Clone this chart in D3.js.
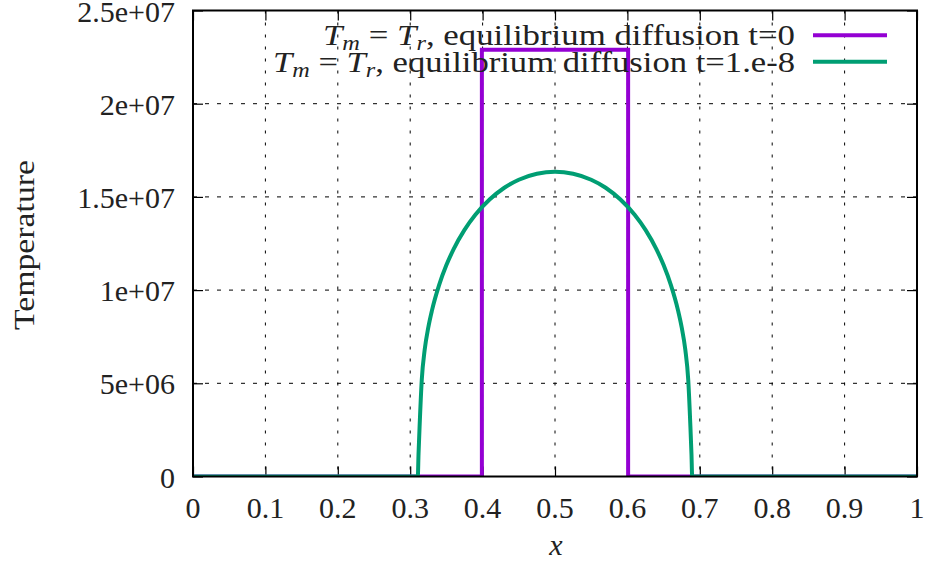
<!doctype html>
<html>
<head>
<script src="https://d3js.org/d3.v7.min.js"></script>
<style>
body { margin: 0; background: #fff; }
text { font-family: "Liberation Serif", "Times New Roman", serif; fill: #222; }
</style>
</head>
<body>
<svg width="935" height="567"></svg>
<script>
// data
var xTicks = [0, 0.1, 0.2, 0.3, 0.4, 0.5, 0.6, 0.7, 0.8, 0.9, 1];
var xTickLabels = ["0", "0.1", "0.2", "0.3", "0.4", "0.5", "0.6", "0.7", "0.8", "0.9", "1"];
var yTicks = [0, 5e6, 1e7, 1.5e7, 2e7, 2.5e7];
var yTickLabels = ["0", "5e+06", "1e+07", "1.5e+07", "2e+07", "2.5e+07"];

// t=0 : step profile
var initX = [0, 0.399, 0.399, 0.601, 0.601, 1];
var initT = [0, 0, 2.29e7, 2.29e7, 0, 0];

// t=1.e-8 : diffused profile
var diffX = [0, 0.3105, 0.3115, 0.313, 0.316, 0.320, 0.325, 0.330, 0.340, 0.350, 0.360, 0.375, 0.390, 0.410, 0.430, 0.450, 0.475, 0.500,
             0.525, 0.550, 0.570, 0.590, 0.610, 0.625, 0.640, 0.650, 0.660, 0.670, 0.675, 0.680, 0.684, 0.687, 0.6885, 0.6895, 1];
var diffT = [0, 0, 0.12e7, 0.27e7, 0.52e7, 0.68e7, 0.80e7, 0.89e7, 1.028e7, 1.134e7, 1.22e7, 1.323e7, 1.404e7, 1.487e7, 1.549e7, 1.592e7, 1.624e7, 1.635e7,
             1.624e7, 1.592e7, 1.549e7, 1.487e7, 1.404e7, 1.323e7, 1.22e7, 1.134e7, 1.028e7, 0.89e7, 0.80e7, 0.68e7, 0.52e7, 0.27e7, 0.12e7, 0, 0];

var seriesNames = ["equilibrium diffusion t=0", "equilibrium diffusion t=1.e-8"];
var seriesColors = ["#9400d3", "#009e73"];

var svg = d3.select("svg");
var pLeft = 193, pRight = 917, pTop = 10.5, pBottom = 476.5;

var x = d3.scaleLinear().domain([0, 1]).range([pLeft, pRight]);
var y = d3.scaleLinear().domain([0, 2.5e7]).range([pBottom, pTop]);

// grid
svg.append("g").selectAll("line").data(xTicks.slice(1, -1)).enter().append("line")
  .attr("x1", d => x(d)).attr("x2", d => x(d))
  .attr("y1", pTop).attr("y2", pBottom)
  .attr("stroke", "#000").attr("stroke-width", 1).attr("stroke-dasharray", "3,9");
svg.append("g").selectAll("line").data(yTicks.slice(1, -1)).enter().append("line")
  .attr("y1", d => y(d)).attr("y2", d => y(d))
  .attr("x1", pLeft).attr("x2", pRight)
  .attr("stroke", "#000").attr("stroke-width", 1).attr("stroke-dasharray", "4,8");

// axes with inward ticks
var tk = 10;
svg.append("g").attr("transform", "translate(0," + pBottom + ")")
  .call(d3.axisTop(x).tickValues(xTicks).tickSize(tk).tickFormat(""))
  .call(g => g.select(".domain").remove());
svg.append("g").attr("transform", "translate(0," + pTop + ")")
  .call(d3.axisBottom(x).tickValues(xTicks).tickSize(tk).tickFormat(""))
  .call(g => g.select(".domain").remove());
svg.append("g").attr("transform", "translate(" + pLeft + ",0)")
  .call(d3.axisRight(y).tickValues(yTicks).tickSize(tk).tickFormat(""))
  .call(g => g.select(".domain").remove());
svg.append("g").attr("transform", "translate(" + pRight + ",0)")
  .call(d3.axisLeft(y).tickValues(yTicks).tickSize(tk).tickFormat(""))
  .call(g => g.select(".domain").remove());
svg.selectAll(".tick line").attr("stroke", "#000").attr("stroke-width", 1.2);

// tick labels
svg.append("g").selectAll("text").data(xTicks).enter().append("text")
  .attr("x", d => x(d)).attr("y", 518)
  .attr("text-anchor", "middle").style("font-size", "30px")
  .text((d, i) => xTickLabels[i]);
svg.append("g").selectAll("text").data(yTicks).enter().append("text")
  .attr("x", 175).attr("y", d => y(d) + 11)
  .attr("text-anchor", "end").style("font-size", "30px")
  .text((d, i) => yTickLabels[i]);

// axis labels
svg.append("text")
  .attr("transform", "translate(34,245)rotate(-90)")
  .attr("text-anchor", "middle").style("font-size", "30px")
  .attr("textLength", 170).attr("lengthAdjust", "spacingAndGlyphs")
  .text("Temperature");
svg.append("text")
  .attr("x", 556).attr("y", 555)
  .attr("text-anchor", "middle").style("font-size", "30px").style("font-style", "italic")
  .text("x");

// curves
svg.append("clipPath").attr("id", "clip").append("rect")
  .attr("x", pLeft).attr("y", pTop).attr("width", pRight - pLeft).attr("height", pBottom - pTop);

var line = d3.line().x(d => x(d[0])).y(d => y(d[1]));
var plot = svg.append("g").attr("clip-path", "url(#clip)");
plot.append("path")
  .attr("d", line.curve(d3.curveLinear)(d3.zip(initX, initT)))
  .attr("fill", "none").attr("stroke", seriesColors[0]).attr("stroke-width", 4);
plot.append("path")
  .attr("d", line.curve(d3.curveMonotoneX)(d3.zip(diffX, diffT)))
  .attr("fill", "none").attr("stroke", seriesColors[1]).attr("stroke-width", 4);

// border
svg.append("rect")
  .attr("x", pLeft).attr("y", pTop).attr("width", pRight - pLeft).attr("height", pBottom - pTop)
  .attr("fill", "none").attr("stroke", "#000").attr("stroke-width", 2);

// legend
var rows = [35.3, 61.7];
var widths = [472, 522];
seriesNames.forEach(function (name, i) {
  var t = svg.append("text")
    .attr("x", 795).attr("y", rows[i] + 10)
    .attr("text-anchor", "end").style("font-size", "30px")
    .attr("textLength", widths[i]).attr("lengthAdjust", "spacingAndGlyphs");
  t.append("tspan").style("font-style", "italic").text("T");
  t.append("tspan").style("font-style", "italic").style("font-size", "21px").attr("dy", 5).text("m");
  t.append("tspan").attr("dy", -5).text(" = ");
  t.append("tspan").style("font-style", "italic").text("T");
  t.append("tspan").style("font-style", "italic").style("font-size", "21px").attr("dy", 5).text("r");
  t.append("tspan").attr("dy", -5).text(", " + name);
  svg.append("line")
    .attr("x1", 813).attr("x2", 887).attr("y1", rows[i]).attr("y2", rows[i])
    .attr("stroke", seriesColors[i]).attr("stroke-width", 4);
});
</script>
</body>
</html>
